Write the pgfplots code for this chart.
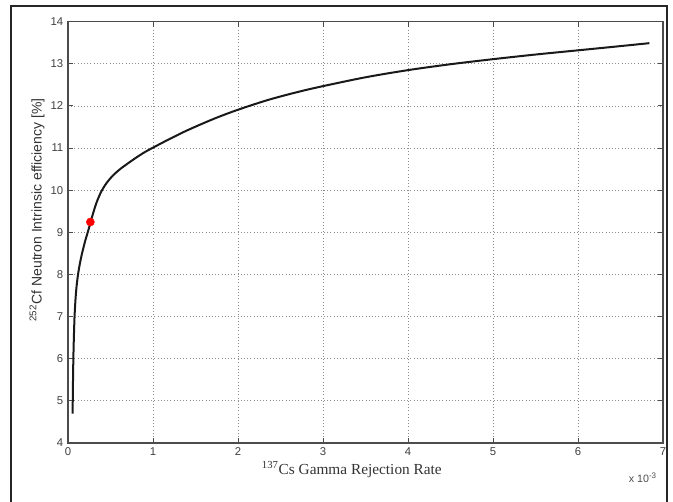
\documentclass[border=0pt]{standalone}
\usepackage{fontspec}
\setmainfont{Liberation Serif}
\setsansfont{Liberation Sans}
\usepackage{pgfplots}
\pgfplotsset{compat=1.18}
\begin{document}
\begin{tikzpicture}
\begin{axis}[
  at={(0,0)}, anchor=south west, scale only axis,
  width=446.25pt, height=316pt,
  xmin=0, xmax=7, ymin=4, ymax=14,
  xtick={0,1,...,7}, ytick={4,5,...,14},
  tick align=inside, major tick length=4pt,
  axis line style={black!70, line width=0.9pt},
  every tick/.style={black!70, line width=0.7pt},
  grid=major,
  major grid style={black!45, dotted, line width=0.6pt},
  tick label style={font=\fontsize{8.5}{10}\sffamily, text=black!75},
  /pgf/number format/assume math mode=true,
  xlabel={\textsuperscript{137}Cs Gamma Rejection Rate},
  ylabel={\textsuperscript{252}Cf Neutron Intrinsic efficiency [\%]},
  xlabel style={at={(axis description cs:0.477,-0.064)}, anchor=center,
    font=\fontsize{11.5}{13}\selectfont, text=black!80},
  ylabel style={at={(axis description cs:-0.052,0.553)}, anchor=center,
    font=\fontsize{10.5}{12}\sffamily, text=black!80},
  clip=false,
]
\addplot[black!90, line width=1.5pt, smooth, tension=0.5] coordinates {
(0.054,4.70) (0.056,5.0) (0.059,5.5) (0.063,6.0) (0.069,6.5) (0.077,7.0)
(0.088,7.4) (0.1,7.7) (0.118,8.0) (0.14,8.26) (0.165,8.5) (0.2,8.78)
(0.235,9.02) (0.263,9.22) (0.298,9.47) (0.34,9.73) (0.392,9.97) (0.45,10.16)
(0.52,10.33) (0.6,10.48) (0.7,10.63) (0.8,10.77) (0.9,10.9) (1.0,11.01)
(1.18,11.2) (1.37,11.39) (1.57,11.57) (1.76,11.73) (2.0,11.91) (2.35,12.14)
(2.7,12.33) (3.0,12.47) (3.5,12.68) (4.0,12.85) (4.5,12.99) (5.0,13.11)
(5.5,13.22) (6.0,13.32) (6.4,13.40) (6.84,13.49)
};
\addplot[only marks, mark=*, mark size=3pt, color=red, fill=red] coordinates {(0.263,9.245)};
\node[anchor=east, font=\fontsize{8}{9}\sffamily, text=black!70, inner sep=0pt]
  at (axis description cs:0.99,-0.083) {x 10\textsuperscript{-3}};
\end{axis}
\draw[black!85, line width=1pt] (-42.75pt,-60pt) -- (-42.75pt,327.75pt) -- (449.25pt,327.75pt) -- (449.25pt,-60pt);
\pgfresetboundingbox
\path[use as bounding box] (-51pt,-43.5pt) rectangle (453.75pt,332.25pt);
\end{tikzpicture}
\end{document}
